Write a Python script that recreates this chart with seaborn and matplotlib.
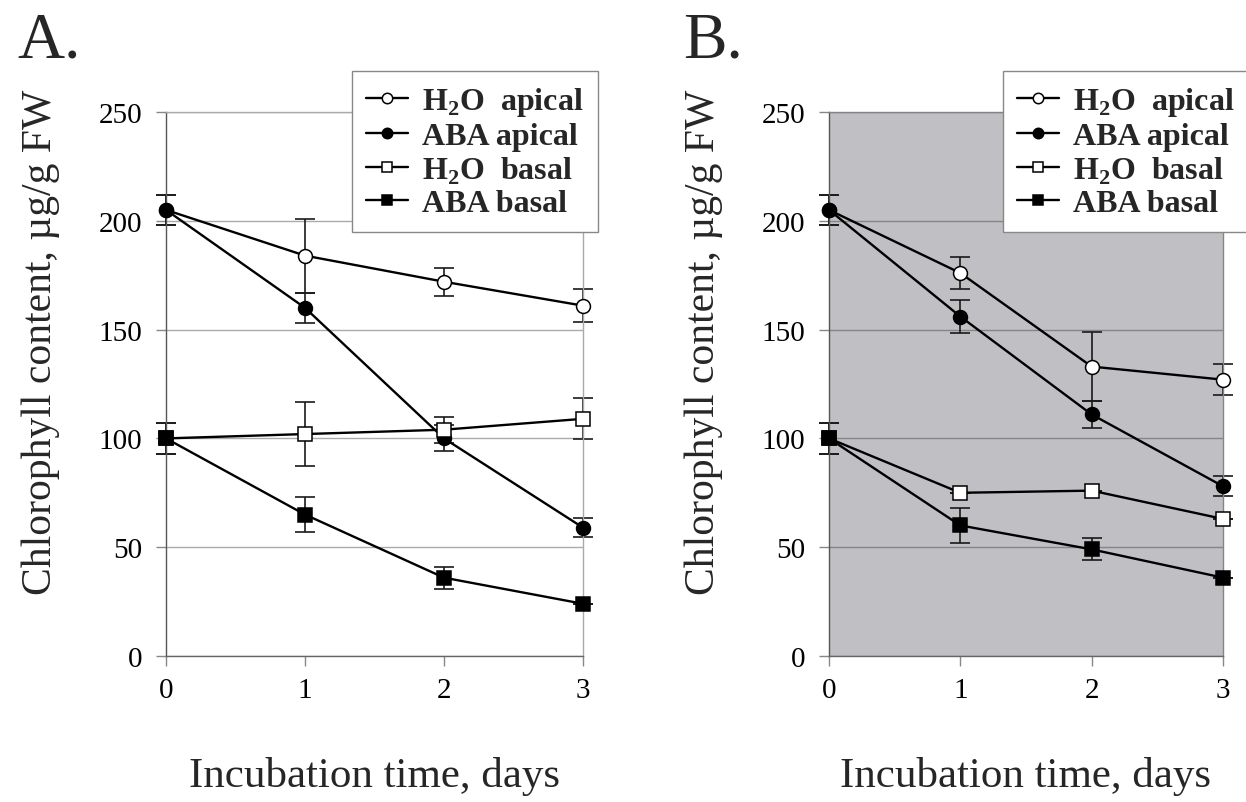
import numpy as np
import pandas as pd
import matplotlib
matplotlib.use('Agg')
import matplotlib.pyplot as plt
import seaborn as sns

# Data
days = [0, 1, 2, 3]
series_names = ['H$_\\mathbf{2}$O  apical', 'ABA apical', 'H$_\\mathbf{2}$O  basal', 'ABA basal']

a_h2o_apical = [205, 184, 172, 161]
a_h2o_apical_err = [7, 17, 6.5, 7.5]
a_aba_apical = [205, 160, 100, 59]
a_aba_apical_err = [7, 7, 6, 4.5]
a_h2o_basal = [100, 102, 104, 109]
a_h2o_basal_err = [7, 14.5, 6, 9.5]
a_aba_basal = [100, 65, 36, 24]
a_aba_basal_err = [7, 8, 5, 0]

b_h2o_apical = [205, 176, 133, 127]
b_h2o_apical_err = [7, 7.5, 16, 7]
b_aba_apical = [205, 156, 111, 78]
b_aba_apical_err = [7, 7.5, 6, 4.5]
b_h2o_basal = [100, 75, 76, 63]
b_h2o_basal_err = [7, 0, 0, 0]
b_aba_basal = [100, 60, 49, 36]
b_aba_basal_err = [7, 8, 5, 0]

yticks = [0, 50, 100, 150, 200, 250]

# Style
sns.set_theme(style='white')
plt.rcParams['font.family'] = ['Liberation Serif', 'DejaVu Serif']
plt.rcParams['mathtext.fontset'] = 'custom'
plt.rcParams['mathtext.rm'] = 'Liberation Serif'
plt.rcParams['mathtext.bf'] = 'Liberation Serif:bold'

markers = ['o', 'o', 's', 's']
faces = ['white', 'black', 'white', 'black']

fig = plt.figure(figsize=(12.46, 8.03), dpi=100)
W, H = 1246, 803


def draw_panel(left_px, right_px, values, errs, facecolor, gridcolor, letter, letter_x, legend_x):
	ax = fig.add_axes([left_px / W, 1 - 657 / H, (right_px - left_px) / W, (657 - 113) / H])
	ax.set_facecolor(facecolor)
	handles = []
	for name, vals, err, m, fc in zip(series_names, values, errs, markers, faces):
		df = pd.DataFrame({'day': days, 'value': vals})
		ax.errorbar(days, vals, yerr=err, fmt='none', ecolor='#1a1a1a', elinewidth=1.2,
					capsize=7, capthick=1.2, zorder=2, clip_on=False)
		sns.lineplot(data=df, x='day', y='value', ax=ax, color='black', linewidth=1.7,
					 marker=m, markersize=10, markerfacecolor=fc, markeredgecolor='black',
					 markeredgewidth=1.1, errorbar=None, clip_on=False, zorder=3, label=name,
					 legend=False)
		handles.append(ax.get_lines()[-1])
	ax.set_xlim(0, 3)
	ax.set_ylim(0, 250)
	ax.set_xticks(days)
	ax.set_yticks(yticks)
	ax.yaxis.grid(True, color=gridcolor, linewidth=1)
	ax.set_axisbelow(True)
	for side in ['top', 'right', 'bottom']:
		ax.spines[side].set_color(gridcolor)
		ax.spines[side].set_linewidth(1)
	ax.spines['left'].set_color('#555555')
	ax.spines['bottom'].set_color('#666666')
	ax.spines['left'].set_linewidth(1)
	ax.tick_params(axis='both', direction='out', length=7, width=1, color='#888888',
				   labelsize=21, labelcolor='black', left=True, bottom=True)
	ax.tick_params(axis='y', pad=10)
	ax.tick_params(axis='x', pad=8)
	ax.set_xlabel('Incubation time, days', fontsize=31)
	ax.set_ylabel('Chlorophyll content, µg/g FW', fontsize=30)
	ax.xaxis.set_label_coords(0.5, -0.184)
	ax.yaxis.set_label_coords(-106 / (right_px - left_px), 0.579)
	fig.text(letter_x / W, 1 - 58 / H, letter, fontsize=47, va='baseline', ha='left')
	leg = ax.legend(handles=handles, labels=series_names, loc='upper left',
					bbox_to_anchor=(legend_x / W, 1 - 72 / H), bbox_transform=fig.transFigure,
					prop={'family': 'Liberation Serif', 'weight': 'bold', 'size': 23},
					frameon=True, fancybox=False, framealpha=1, edgecolor='#888888',
					borderpad=0.45, labelspacing=0.1, handlelength=1.3, handletextpad=0.45,
					borderaxespad=0, markerscale=0.75)
	leg.get_frame().set_linewidth(1)
	leg.set_zorder(5)
	return ax


draw_panel(166, 583,
		   [a_h2o_apical, a_aba_apical, a_h2o_basal, a_aba_basal],
		   [a_h2o_apical_err, a_aba_apical_err, a_h2o_basal_err, a_aba_basal_err],
		   'white', '#aaaaaa', 'A.', 17, 352)
draw_panel(829, 1223,
		   [b_h2o_apical, b_aba_apical, b_h2o_basal, b_aba_basal],
		   [b_h2o_apical_err, b_aba_apical_err, b_h2o_basal_err, b_aba_basal_err],
		   '#c0bfc4', '#858585', 'B.', 683, 1003)

plt.savefig('out.png', dpi=100)
